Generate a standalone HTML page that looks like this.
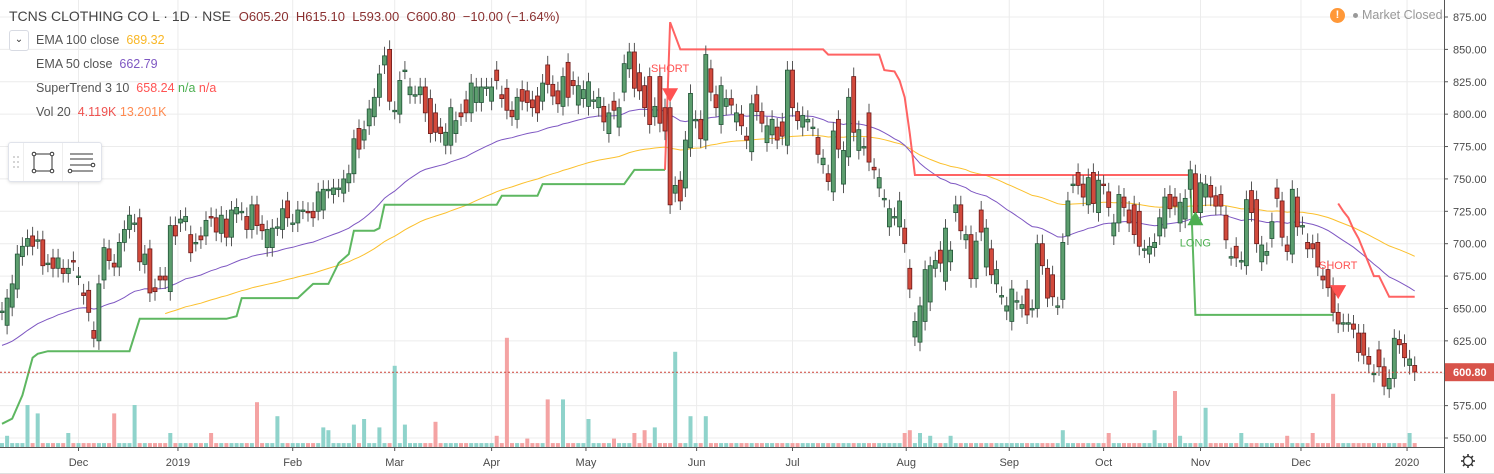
<!DOCTYPE html>
<html><head><meta charset="utf-8">
<style>
html,body{margin:0;padding:0;background:#fff;}
body{width:1494px;height:474px;overflow:hidden;position:relative;font-family:"Liberation Sans","DejaVu Sans",sans-serif;}
svg{position:absolute;left:0;top:0;}
.t{position:absolute;white-space:nowrap;font-size:12.5px;color:#555;}
</style></head>
<body>
<svg id="chart" width="1494" height="474" viewBox="0 0 1494 474"></svg>

<div class="t" style="left:9px;top:8px;font-size:14px;color:#444;">TCNS CLOTHING CO L · 1D · NSE&nbsp;&nbsp;<span style="color:#8a3030;font-size:13px">O605.20&nbsp; H615.10&nbsp; L593.00&nbsp; C600.80&nbsp; −10.00 (−1.64%)</span></div>
<div style="position:absolute;left:9px;top:30px;width:18px;height:19px;border:1px solid #d8dbe3;border-radius:3px;background:#fff;font-size:10px;color:#333;text-align:center;line-height:18px;">&#8964;</div>
<div class="t" style="left:36px;top:33px;">EMA 100 close&nbsp; <span style="color:#f9b726">689.32</span></div>
<div class="t" style="left:36px;top:57px;">EMA 50 close&nbsp; <span style="color:#7e57c2">662.79</span></div>
<div class="t" style="left:36px;top:81px;">SuperTrend 3 10&nbsp; <span style="color:#ff5252">658.24</span> <span style="color:#4caf50">n/a</span> <span style="color:#ff5252">n/a</span></div>
<div class="t" style="left:36px;top:105px;">Vol 20&nbsp; <span style="color:#ef5350">4.119K</span> <span style="color:#ff8a50">13.201K</span></div>
<div style="position:absolute;left:8px;top:142px;width:92px;height:38px;background:#fff;border:1px solid #e0e3eb;border-radius:3px;box-shadow:0 1px 3px rgba(0,0,0,0.12);">
 <svg width="92" height="38" style="position:static">
  <g fill="#c8c8c8"><circle cx="5" cy="14" r="1"/><circle cx="9" cy="14" r="1"/><circle cx="5" cy="19" r="1"/><circle cx="9" cy="19" r="1"/><circle cx="5" cy="24" r="1"/><circle cx="9" cy="24" r="1"/></g>
  <line x1="14.5" y1="0" x2="14.5" y2="38" stroke="#eee"/><line x1="53.5" y1="0" x2="53.5" y2="38" stroke="#eee"/>
  <g fill="#fff" stroke="#333" stroke-width="1"><rect x="25" y="11" width="18" height="17"/><circle cx="25" cy="11" r="1.8"/><circle cx="43" cy="11" r="1.8"/><circle cx="25" cy="28" r="1.8"/><circle cx="43" cy="28" r="1.8"/></g>
  <g stroke="#333" fill="#fff"><line x1="61" y1="11" x2="84" y2="11"/><line x1="61" y1="16" x2="84" y2="16"/><line x1="61" y1="22" x2="82" y2="22"/><line x1="61" y1="28" x2="84" y2="28"/><circle cx="84" cy="22" r="1.8"/><circle cx="61" cy="28" r="1.8"/></g>
 </svg>
</div>
<div style="position:absolute;left:1330px;top:8px;font-size:12.5px;color:#999;white-space:nowrap;">
 <span style="display:inline-block;width:15px;height:15px;border-radius:50%;background:#ff9838;color:#fff;font-size:11px;font-weight:bold;text-align:center;line-height:15px;vertical-align:middle;">!</span>
 <span style="display:inline-block;width:5px;height:5px;border-radius:50%;background:#999;vertical-align:middle;margin-left:5px;"></span> Market Closed</div>

<script>
// ---- data ----
const opens = [648,637,651,665,690,698,706,703,703,685,689,681,681,677,687,675,662,664,633,625,672,696,685,682,701,711,716,720,684,696,666,675,675,663,714,716,717,707,701,706,706,721,720,708,719,705,723,725,721,711,730,715,697,697,713,711,733,716,716,726,725,725,725,726,742,738,743,739,747,754,789,780,791,798,813,838,850,803,800,834,815,815,815,821,812,801,790,776,776,785,801,811,801,809,809,821,810,834,815,820,803,796,819,818,811,814,810,838,823,818,806,840,826,807,812,806,811,805,806,785,810,790,817,835,848,832,822,829,798,829,805,805,739,749,743,774,796,796,780,835,815,792,806,812,794,800,783,771,815,802,778,784,790,794,776,834,802,790,794,790,782,761,754,740,796,746,767,829,772,775,801,759,743,735,713,721,713,712,681,628,624,640,655,681,695,671,686,724,730,703,707,673,726,682,696,669,660,648,640,656,650,665,650,650,700,681,676,652,657,706,746,755,746,730,755,724,746,740,706,716,736,726,730,725,696,692,697,706,712,738,736,716,719,742,754,724,736,745,737,738,722,690,698,687,683,741,734,686,691,704,743,733,699,692,736,714,701,700,701,675,680,667,647,639,639,638,631,631,613,600,618,605,588,596,626,623,606,606];
const closes = [648,658,669,692,698,704,698,703,683,685,681,689,677,681,686,675,660,647,627,669,697,687,682,701,711,722,716,686,692,662,663,672,672,714,706,719,721,693,701,703,718,720,709,722,705,726,728,725,711,730,714,710,711,712,713,727,720,716,726,726,724,720,740,742,742,743,743,750,754,781,773,788,804,813,831,845,810,803,826,834,821,815,821,801,785,786,785,786,805,795,798,801,824,821,821,821,821,826,812,803,798,813,810,809,805,801,824,823,814,808,829,813,822,822,819,825,811,813,794,801,803,805,839,848,820,818,805,792,806,793,787,730,745,733,780,816,796,781,846,817,805,822,812,807,801,791,780,808,802,793,791,796,780,783,834,805,795,799,796,790,769,766,748,787,773,772,813,786,788,775,763,757,751,735,727,721,733,700,665,640,652,680,683,687,685,712,695,730,710,707,673,702,709,712,676,680,660,652,665,656,653,645,650,700,683,658,659,652,701,733,746,745,736,751,731,749,745,728,716,738,728,716,707,698,696,698,701,720,736,727,729,732,735,757,724,747,746,736,729,729,703,690,689,687,734,724,700,699,694,717,735,705,694,742,713,714,696,696,682,672,666,647,638,639,639,634,616,614,607,600,605,590,596,627,622,612,611,601];
// volume (K): typical day volume plus notable spikes
const volTypical = 1.4;
const volSpikeIdx = [1,5,7,13,22,26,33,41,50,54,63,64,69,71,74,77,79,85,97,99,103,107,110,115,120,124,126,128,132,135,138,177,178,180,182,186,208,217,226,230,231,236,243,252,257,261,276];
const volSpikeVal = [4,15,12,5,12,15,5,5,16,11,7,6,8,10,7,29,8,9,4,39,3,17,17,10,3,5,6,7,34,11,11,5,6,5,4,4,6,5,6,20,4,14,5,4,5,19,5];
const ema50Seed = 621.5, ema100Seed = 646, ema100Start = 32;
const stGreenIdx = [0,2,4,6,7,9,25,27,44,46,47,58,61,64,66,68,69,73,74,75,97,98,105,106,122,124,130];
const stGreenVal = [561,565,583,612,615,617,617,642,642,644,658,658,669,669,685,692,710,710,712,730,730,737,737,746,746,757,757];
const stRedIdx = [130,131,133,161,162,172,173,175,176,177,178,179,233];
const stRedVal = [757,871,850,850,846,846,834,833,826,813,785,753,753];
const stGreen2Idx = [233,234,261];
const stGreen2Val = [749,645,645];
const stRed2Idx = [262,263,264,265,266,269,270,272,277];
const stRed2Val = [731,725,720,711,704,675,675,659,659];
const priceTicks = [875,850,825,800,775,750,725,700,675,650,625,600,575,550];
const monthLabels = ["Dec","2019","Feb","Mar","Apr","May","Jun","Jul","Aug","Sep","Oct","Nov","Dec","2020"];
const monthIdx = [15,34.5,57,77,96,114.5,136.2,155,177.3,197.5,216,235,254.7,275.5];
const signals = [{type:"SHORT",idx:131,price:820},{type:"LONG",idx:234,price:725},{type:"SHORT",idx:262,price:668}];
const lastPrice = 600.80;

const volumes = closes.map(()=>volTypical);
volSpikeIdx.forEach((ix,j)=>{ if(ix<volumes.length) volumes[ix]=volSpikeVal[j]; });

// ---- axes ----
const X0 = 2, DX = 5.1, PW = 1444, BASE = 447;
const xs = i => X0 + i*DX;
const ys = p => 17 + (875-p)*1.2954;
const vs = v => BASE - v*2.8;

const NS = "http://www.w3.org/2000/svg";
const svg = document.getElementById('chart');
function mk(tag, attrs, parent){const e=document.createElementNS(NS,tag);for(const k in attrs)e.setAttribute(k,attrs[k]);(parent||svg).appendChild(e);return e;}

const grid = mk('g',{});


priceTicks.forEach(p=>{mk('line',{x1:0,x2:PW,y1:ys(p),y2:ys(p),stroke:'#ececec','stroke-width':1},grid);});
monthIdx.forEach(m=>{mk('line',{x1:xs(m),x2:xs(m),y1:0,y2:BASE,stroke:'#ececec','stroke-width':1},grid);});

const volG = mk('g',{});


volumes.forEach((v,i)=>{
  const up = closes[i]>=opens[i];
  const r = mk('rect',{x:xs(i)-2,y:vs(v),width:4,height:BASE-vs(v),fill:up?'#8fd3cb':'#f4a3a3'},volG);
  
  
});

function ema(period, seed, start){const k=2/(period+1);let e=seed;const out=[];for(let i=0;i<closes.length;i++){if(i<start){out.push(null);continue;}if(i>start)e=closes[i]*k+e*(1-k);out.push(e);}return out;}
function pathFrom(arr){let d='';arr.forEach((v,i)=>{if(v==null)return;d+=(d?'L':'M')+xs(i).toFixed(1)+','+ys(v).toFixed(1);});return d;}
const e100 = mk('path',{d:pathFrom(ema(100,ema100Seed,ema100Start)),fill:'none',stroke:'#fbc02d','stroke-width':1});


const e50 = mk('path',{d:pathFrom(ema(50,ema50Seed,0)),fill:'none',stroke:'#7e57c2','stroke-width':1});



function stPath(idx,val){return idx.map((ix,j)=>(j?'L':'M')+xs(ix).toFixed(1)+','+ys(val[j]).toFixed(1)).join('');}
const sg = mk('path',{d:stPath(stGreenIdx,stGreenVal),fill:'none',stroke:'#4caf50','stroke-width':2,'stroke-opacity':0.9});


const sr = mk('path',{d:stPath(stRedIdx,stRedVal),fill:'none',stroke:'#ff5252','stroke-width':2,'stroke-opacity':0.9});


const sg2 = mk('path',{d:stPath(stGreen2Idx,stGreen2Val),fill:'none',stroke:'#4caf50','stroke-width':2,'stroke-opacity':0.9});


const sr2 = mk('path',{d:stPath(stRed2Idx,stRed2Val),fill:'none',stroke:'#ff5252','stroke-width':2,'stroke-opacity':0.9});



const cg = mk('g',{});


opens.forEach((o,i)=>{
  const c = closes[i], up = c>=o, x = xs(i);
  const hi = Math.max(o,c)+7, lo = Math.min(o,c)-7;
  const w = mk('line',{x1:x,x2:x,y1:ys(hi),y2:ys(lo),stroke:'#555','stroke-width':1},cg);
  
  
  const top = ys(Math.max(o,c)), h = Math.max(1.5, Math.abs(ys(o)-ys(c)));
  const b = mk('rect',{x:x-2,y:top,width:4,height:h,fill:up?'#5c9e6e':'#d24a3c',stroke:up?'#225437':'#6b1a1a','stroke-width':0.8},cg);
  
  
});

signals.forEach(s=>{
  const x = xs(s.idx), y = ys(s.price);
  const g = mk('g',{});
  
  
  if(s.type==='SHORT'){
    mk('polygon',{points:`${x-8},${y} ${x+8},${y} ${x},${y+14}`,fill:'#ff5252'},g);
    const t=mk('text',{x:x,y:y-16,'text-anchor':'middle','font-size':11,fill:'#ff5252','font-family':'Liberation Sans, sans-serif'},g);t.textContent='SHORT';
  } else {
    mk('polygon',{points:`${x-8},${y+14} ${x+8},${y+14} ${x},${y}`,fill:'#4caf50'},g);
    const t=mk('text',{x:x,y:y+35,'text-anchor':'middle','font-size':11,fill:'#4caf50','font-family':'Liberation Sans, sans-serif'},g);t.textContent='LONG';
  }
});

const lp = mk('line',{x1:0,x2:PW,y1:ys(lastPrice),y2:ys(lastPrice),stroke:'#d0453a','stroke-width':1,'stroke-dasharray':'2,2'});



const ax = mk('g',{});


mk('line',{x1:PW+0.5,x2:PW+0.5,y1:0,y2:474,stroke:'#555','stroke-width':1},ax);
priceTicks.forEach(p=>{
  mk('line',{x1:PW,x2:PW+4,y1:ys(p),y2:ys(p),stroke:'#555'},ax);
  const t=mk('text',{x:PW+9,y:ys(p)+4,'font-size':11,fill:'#4a4a4a','font-family':'Liberation Sans, sans-serif'},ax);
  t.textContent=p.toFixed(2);
  
  
});
const lb = mk('rect',{x:PW+1,y:ys(lastPrice)-9,width:50,height:18,fill:'#d8534a'},ax);


const lt = mk('text',{x:PW+9,y:ys(lastPrice)+4,'font-size':11,fill:'#fff','font-weight':'bold','font-family':'Liberation Sans, sans-serif'},ax);
lt.textContent=lastPrice.toFixed(2);

const tx = mk('g',{});


mk('line',{x1:0,x2:PW,y1:BASE+0.5,y2:BASE+0.5,stroke:'#555'},tx);
monthLabels.forEach((m,j)=>{
  const x=xs(monthIdx[j]);
  mk('line',{x1:x,x2:x,y1:BASE,y2:BASE+4,stroke:'#555'},tx);
  const t=mk('text',{x:x,y:466,'text-anchor':'middle','font-size':11,fill:'#4a4a4a','font-family':'Liberation Sans, sans-serif'},tx);
  t.textContent=m;
  
  
});
mk('line',{x1:0,x2:1494,y1:473.5,y2:473.5,stroke:'#e0e0e0'});
const gear = mk('g',{transform:'translate(1468,461)'});


mk('circle',{cx:0,cy:0,r:4.5,fill:'none',stroke:'#333','stroke-width':1.3},gear);
for(let a=0;a<8;a++){const r=a*Math.PI/4;mk('line',{x1:Math.cos(r)*4.5,y1:Math.sin(r)*4.5,x2:Math.cos(r)*7,y2:Math.sin(r)*7,stroke:'#333','stroke-width':1.6},gear);}
</script>
</body></html>
